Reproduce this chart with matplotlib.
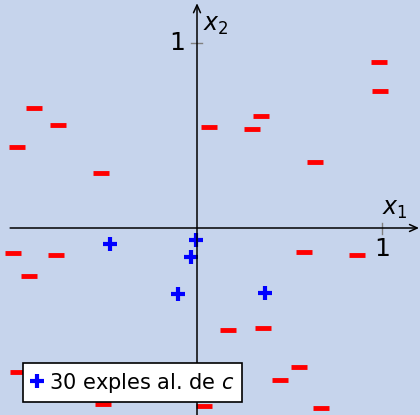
import matplotlib
matplotlib.use("Agg")
import matplotlib.pyplot as plt

# negative examples (x1, x2)
neg_x1 = [-0.881, -0.751, -0.973, -0.519, 0.065, 0.984, 0.989, 0.346, 0.297, 0.638,
          -0.995, -0.762, -0.908, -0.968, -0.508, 0.038, 0.578, 0.865, 0.168, 0.357,
          0.551, 0.449, 0.670]
neg_x2 = [0.649, 0.557, 0.438, 0.297, 0.546, 0.897, 0.741, 0.605, 0.535, 0.357,
          -0.135, -0.146, -0.259, -0.778, -0.951, -0.962, -0.130, -0.146, -0.551, -0.541,
          -0.751, -0.822, -0.973]

# positive examples
pos_x1 = [-0.470, -0.005, -0.032, -0.103, 0.368]
pos_x2 = [-0.086, -0.065, -0.157, -0.357, -0.351]

legend_label = "30 exples al. de $c$"
bg = "#c6d4ec"

fig = plt.figure(figsize=(4.2, 4.15), dpi=100, facecolor=bg)
ax = fig.add_axes([0, 0, 1, 1])
ax.set_facecolor(bg)
ax.set_xlim(-197 / 185, 223 / 185)
ax.set_ylim(-187 / 185, 228 / 185)
ax.set_aspect("equal")
ax.axis("off")

# axes with arrow heads
arrow = dict(arrowstyle="->,head_length=0.55,head_width=0.25", color="black", lw=1.1,
             shrinkA=0, shrinkB=0)
ax.annotate("", xy=(1.2, 0), xytext=(-1.01, 0), arrowprops=arrow)
ax.annotate("", xy=(0, 1.215), xytext=(0, -1.1), arrowprops=arrow)

# unit ticks
ax.plot([1, 1], [-0.03, 0.025], color="gray", lw=1)
ax.plot([-0.032, 0.027], [1, 1], color="gray", lw=1)
ax.text(1.0, -0.05, "1", ha="center", va="top", fontsize=18)
ax.text(-0.065, 1.0, "1", ha="right", va="center", fontsize=18)
ax.text(1.0, 0.04, "$x_1$", ha="left", va="bottom", fontsize=17)
ax.text(0.03, 1.1, "$x_2$", ha="left", va="center", fontsize=17)

ax.plot(neg_x1, neg_x2, ls="none", marker="_", ms=11, mew=3.5, color="red")
ax.plot(pos_x1, pos_x2, ls="none", marker="+", ms=10, mew=3, color="blue",
        label=legend_label)

leg = ax.legend(loc="lower left", bbox_to_anchor=(23 / 420, 13 / 415),
                fontsize=15, frameon=True, fancybox=False, framealpha=1,
                edgecolor="black", handlelength=0.6, handletextpad=0.3,
                borderpad=0.35, borderaxespad=0)
leg.get_frame().set_linewidth(1.2)
leg.set_zorder(10)

fig.savefig("out.png", dpi=100, facecolor=bg)
